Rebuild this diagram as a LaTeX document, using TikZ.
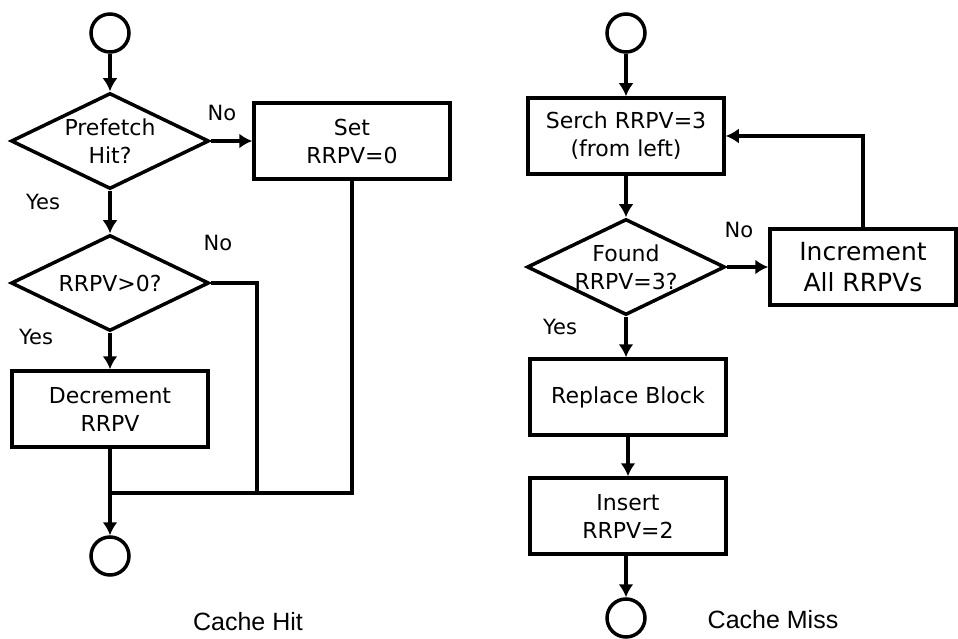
\documentclass[tikz,border=0pt]{standalone}
\usepackage{fontspec}
\setmainfont{DejaVu Sans}
\newfontfamily\capfont{Liberation Sans}
\usetikzlibrary{arrows.meta,shapes.geometric}

\tikzset{
  flowbox/.style={draw,line width=3.5pt,rectangle,minimum width=196pt,minimum height=76pt,
    align=center,inner sep=0pt,font=\fontsize{22}{28}\selectfont},
  decision/.style={draw,line width=3.5pt,diamond,aspect=2,minimum width=198pt,minimum height=96pt,
    align=center,inner sep=-14pt,font=\fontsize{22}{28}\selectfont},
  term/.style={draw,line width=3.5pt,circle,minimum size=38pt,inner sep=0pt},
  lbl/.style={font=\fontsize{21}{25}\selectfont},
  caption/.style={font=\capfont\fontsize{25}{30}\selectfont},
  flow/.style={line width=4.5pt,->},
}

\begin{document}
\begin{tikzpicture}[>={Latex[length=13pt,width=15pt]},x=1pt,y=-1pt]
  \useasboundingbox (0,0) rectangle (958,639);
  % Cache hit
  \node[term] (hitstart) at (110,33) {};
  \node[decision] (pfhit) at (110,141) {Prefetch\\Hit?};
  \node[flowbox] (setzero) at (352,141) {Set\\RRPV=0};
  \node[decision] (gtzero) at (110,283) {RRPV>0?};
  \node[flowbox] (decr) at (110,409) {Decrement\\RRPV};
  \node[term] (hitend) at (110,556) {};
  \coordinate (join) at (110,493);
  \coordinate (joinmid) at (257,493);
  \draw[flow] (hitstart) -- (pfhit);
  \draw[flow] (pfhit) -- (setzero);
  \draw[flow] (pfhit) -- (gtzero);
  \draw[flow] (gtzero) -- (decr);
  \draw[line width=4.5pt] (setzero) |- (join);
  \draw[line width=4.5pt] (gtzero.east) -| (joinmid);
  \draw[flow] (decr) -- (hitend);
  \node[lbl] at (222,113) {No};
  \node[lbl] at (43,202) {Yes};
  \node[lbl] at (218,243) {No};
  \node[lbl] at (36,337) {Yes};
  \node[caption] (hitcap) at (248,622) {Cache Hit};
  % Cache miss
  \node[term] (missstart) at (626,33) {};
  \node[flowbox] (search) at (626,136) {Serch RRPV=3\\(from left)};
  \node[decision] (found) at (626,267) {Found\\RRPV=3?};
  \node[flowbox,minimum width=186pt,font=\fontsize{25}{31}\selectfont] (incr) at (863,267) {Increment\\All RRPVs};
  \node[flowbox] (replace) at (628,397) {Replace Block};
  \node[flowbox] (insert) at (628,516) {Insert\\RRPV=2};
  \node[term] (missend) at (626,618) {};
  \draw[flow] (missstart) -- (search);
  \draw[flow] (search) -- (found);
  \draw[flow] (found) -- (incr);
  \draw[flow] (incr.north) |- (search.east);
  \draw[flow] (found.south) -- (found.south |- replace.north);
  \draw[flow] (replace) -- (insert);
  \draw[flow] (insert.south -| missend) -- (missend);
  \node[lbl] at (739,230) {No};
  \node[lbl] at (560,327) {Yes};
  \node[caption] (misscap) at (773,620) {Cache Miss};
\end{tikzpicture}
\end{document}
